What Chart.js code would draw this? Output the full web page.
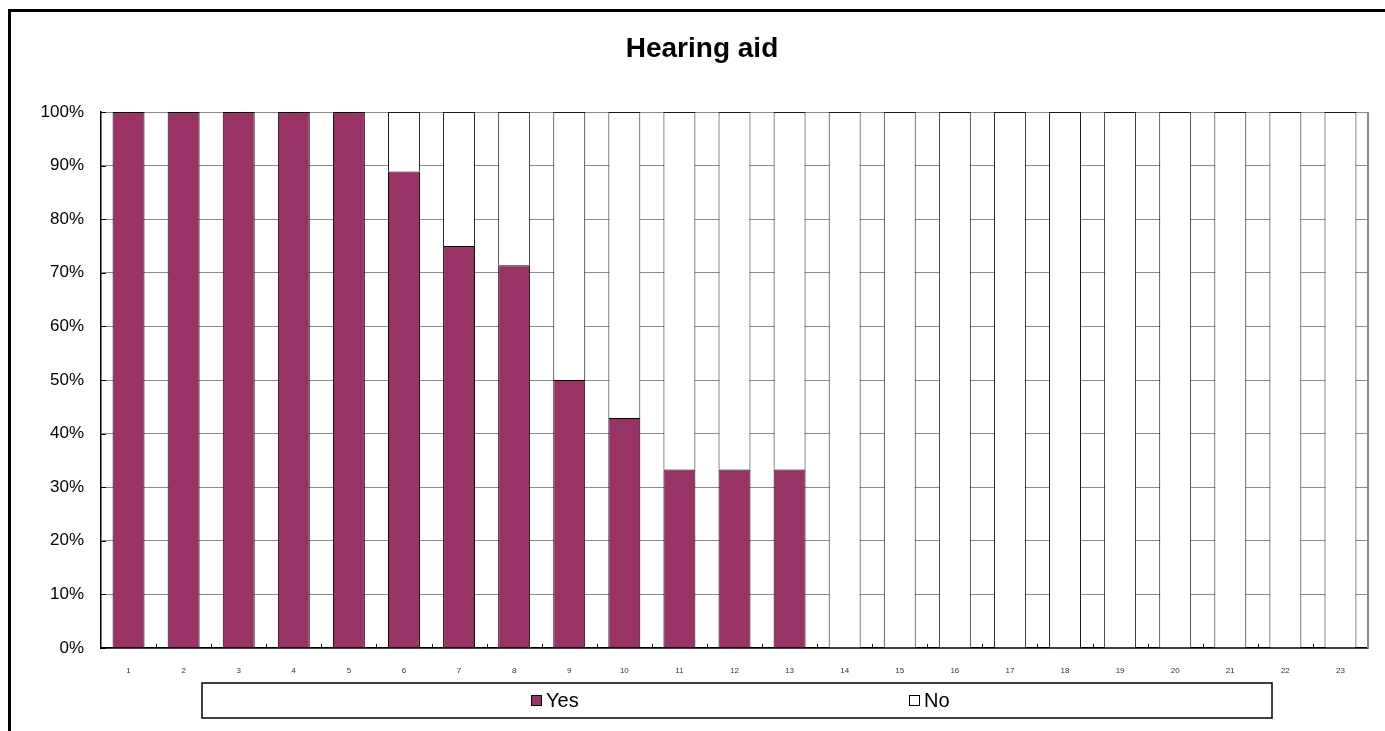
<!DOCTYPE html>
<html>
<head>
<meta charset="utf-8">
<script src="https://cdn.jsdelivr.net/npm/chart.js@4.4.0/dist/chart.umd.min.js"></script>
<style>
  html, body { margin: 0; padding: 0; background: #fff; }
  #wrap { width: 1385px; height: 731px; position: relative; }
</style>
</head>
<body>
<div id="wrap"><canvas id="hearingChart" width="1385" height="731"></canvas></div>
<script>
// Datos del gráfico
const titulo = 'Hearing aid';
const categorias = ['1','2','3','4','5','6','7','8','9','10','11','12','13','14','15','16','17','18','19','20','21','22','23'];
const valoresSi = [100, 100, 100, 100, 100, 88.9, 75, 71.4, 50, 42.9, 33.3, 33.3, 33.3, 0, 0, 0, 0, 0, 0, 0, 0, 0, 0];
const valoresNo = [0, 0, 0, 0, 0, 11.1, 25, 28.6, 50, 57.1, 66.7, 66.7, 66.7, 100, 100, 100, 100, 100, 100, 100, 100, 100, 100];
const etiquetasY = ['0%','10%','20%','30%','40%','50%','60%','70%','80%','90%','100%'];

const fuente = '"Liberation Sans", Arial, sans-serif';

// Marco, título, bordes y leyenda dibujados a mano
const decoracion = {
    id: 'decoracion',
    beforeDraw(chart) {
        const c = chart.ctx;
        c.save();
        c.fillStyle = '#fff';
        c.fillRect(0, 0, chart.width, chart.height);
        c.fillStyle = '#000';
        c.fillRect(8, 9, chart.width, 3);
        c.fillRect(8, 9, 3, chart.height);
        c.restore();
    },
    afterDraw(chart) {
        const c = chart.ctx;
        const area = chart.chartArea;
        const x = chart.scales.x;
        const y = chart.scales.y;
        c.save();
        // título
        c.fillStyle = '#000';
        c.font = 'bold 28px ' + fuente;
        c.textAlign = 'center';
        c.textBaseline = 'middle';
        c.fillText(titulo, 702, 49);
        // borde derecho gris
        c.strokeStyle = '#8a8a8a';
        c.lineWidth = 2;
        c.beginPath();
        c.moveTo(area.right, area.top);
        c.lineTo(area.right, area.bottom);
        c.stroke();
        // marcas interiores eje Y
        c.strokeStyle = '#000';
        c.lineWidth = 1;
        c.beginPath();
        for (let v = 0; v <= 100; v += 10) {
            const py = Math.round(y.getPixelForValue(v)) + 0.5;
            c.moveTo(area.left, py);
            c.lineTo(area.left + 5, py);
        }
        // marcas interiores eje X
        for (let i = 0; i < categorias.length - 1; i++) {
            const px = Math.round(x.getPixelForValue(i + 0.5)) + 0.5;
            c.moveTo(px, area.bottom);
            c.lineTo(px, area.bottom - 4);
        }
        c.stroke();
        // leyenda
        c.strokeStyle = '#000';
        c.lineWidth = 1.5;
        c.strokeRect(202, 683, 1070, 35);
        const items = [
            { x: 531, ds: chart.data.datasets[0] },
            { x: 909, ds: chart.data.datasets[1] }
        ];
        c.font = '20px ' + fuente;
        c.textBaseline = 'middle';
        c.textAlign = 'left';
        items.forEach(it => {
            c.fillStyle = it.ds.backgroundColor;
            c.fillRect(it.x, 695, 10, 11);
            c.strokeStyle = '#000';
            c.lineWidth = 1;
            c.strokeRect(it.x + 0.5, 695.5, 10, 10);
            c.fillStyle = '#000';
            c.fillText(it.ds.label, it.x + 15, 701);
        });
        c.restore();
    }
};

const ctx = document.getElementById('hearingChart').getContext('2d');
const grafico = new Chart(ctx, {
    type: 'bar',
    data: {
        labels: categorias,
        datasets: [{
            label: 'Yes',
            data: valoresSi,
            backgroundColor: '#993366',
            borderColor: '#000000',
            borderWidth: 1,
            barPercentage: 0.58,
            categoryPercentage: 1
        }, {
            label: 'No',
            data: valoresNo,
            backgroundColor: '#ffffff',
            borderColor: '#1a1a1a',
            borderWidth: 1,
            barPercentage: 0.58,
            categoryPercentage: 1
        }]
    },
    options: {
        responsive: false,
        animation: false,
        layout: { padding: { left: 0, right: 17, top: 112, bottom: 0 } },
        plugins: {
            legend: { display: false },
            tooltip: { enabled: false },
            title: { display: false }
        },
        scales: {
            x: {
                stacked: true,
                grid: { display: false },
                border: { color: '#000', width: 1.5 },
                ticks: {
                    color: '#333',
                    padding: 10,
                    maxRotation: 0,
                    autoSkip: false,
                    font: { family: fuente, size: 8 }
                },
                afterFit(scale) { scale.height = 83; }
            },
            y: {
                stacked: true,
                min: 0,
                max: 100,
                grid: { color: '#8c8c8c', lineWidth: 1, drawTicks: false },
                border: { color: '#000', width: 1.5 },
                ticks: {
                    stepSize: 10,
                    color: '#000',
                    padding: 17,
                    font: { family: fuente, size: 17 },
                    callback: function (value) {
                        return etiquetasY[Math.round(value / 10)];
                    }
                },
                afterFit(scale) { scale.width = 101; }
            }
        }
    },
    plugins: [decoracion]
});
</script>
</body>
</html>
